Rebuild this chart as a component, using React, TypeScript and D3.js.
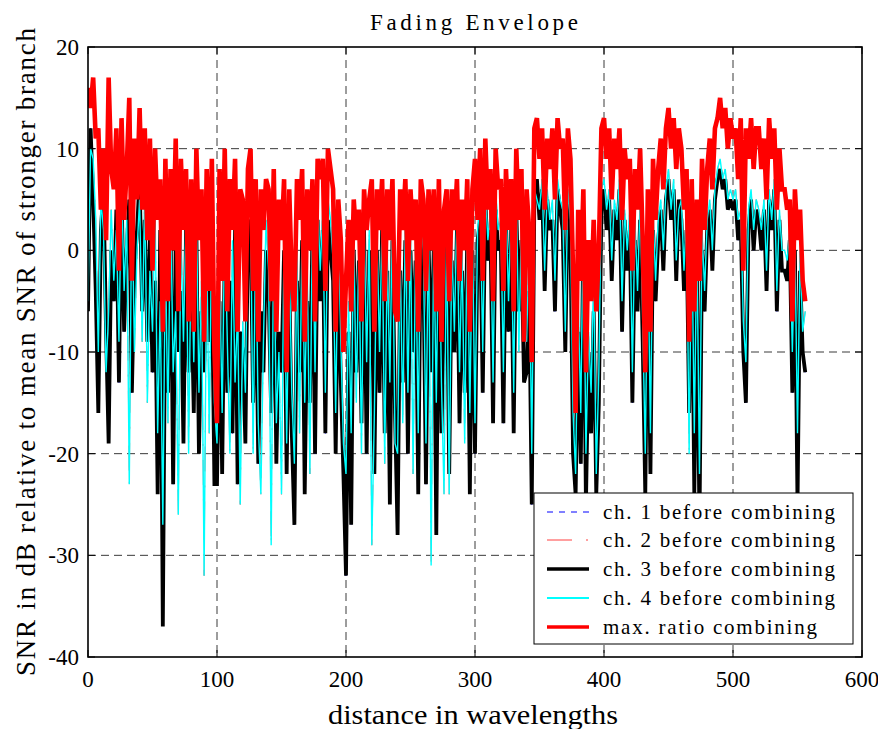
import React from 'react';
import * as d3 from 'd3';

// distance step between samples (wavelengths)
const X_STEP = 2;

// ch. 3 before combining (dB), one value every X_STEP wavelengths from 0 to 556
const ch3Values: number[] = [
  -6, 12, 5, -4, -16, 2, 6, -8, -19, 0,
  -5, 4, -13, 6, -8, 0, 5, -14, -2, 2,
  7, -6, 3, -9, 1, -12, -3, -24, 2, -37,
  -2, -14, 3, -23, 1, -10, -4, -19, 2, -12,
  -3, -16, 2, -20, -6, -12, 1, -9, -2, -23,
  -23, -5, -22, 0, -14, -3, -18, 2, -23, -8,
  -10, -19, 2, 3, -15, -1, -21, -6, -12, 0,
  -4, -16, 1, -21, -8, -12, 0, -22, -3, -18,
  -27, -3, -12, 1, -24, -5, -15, 2, -20, 3,
  -5, 2, -18, 3, 0, -3, -20, -1, -13, -22,
  -32, -8, -27, 0, -12, -1, -17, 2, -20, 0,
  -3, -22, 0, -14, 2, -18, -2, -25, 1, -16,
  -28, -2, -13, 1, -20, 0, -10, -1, -24, 2,
  -2, -23, 1, -12, 0, -28, 2, -18, -5, 1,
  -22, -1, -10, 2, -17, -2, -14, 1, -24, 0,
  -20, 1, 3, -14, 5, -1, 2, -17, 4, 0,
  1, -17, 3, -8, 2, -18, 4, -6, 1, -13,
  -12, -4, -25, 5, 7, 3, 6, -4, 5, 2,
  3, -6, 6, 4, 2, -10, 5, 1, -20, -24,
  -8, -21, 2, -25, -10, -18, -6, -24, -15, 4,
  6, 2, 5, -3, 4, 1, 6, -8, 3, -2,
  2, -15, 1, -6, 3, -9, -24, -1, -22, 2,
  -5, 1, 4, -2, 5, 7, 3, 6, -3, 5,
  3, -4, 2, -16, 1, -24, -2, -27, 0, -6,
  2, 4, -2, 5, 7, 8, 6, 7, 4, 5,
  4, 5, 1, 3, -10, -15, 2, 5, 0, 4,
  3, 0, 4, -4, 5, 2, 6, -6, 3, -2,
  -2, -3, 1, -14, 0, -25, -2, -10, -12,
];

// ch. 4 before combining (dB)
const ch4Values: number[] = [
  -5, 10, 9, 3, -10, 5, 2, -12, -6, 4,
  -3, 2, -9, 7, -4, 3, -23, 6, -10, 0,
  5, -9, 6, -15, -2, -8, 4, -18, -5, -27,
  0, -17, 5, -12, -6, -26, 2, -9, 4, -20,
  1, -11, 4, -14, -3, -32, 0, -18, 3, -15,
  -19, -2, -16, 3, -9, -20, 1, -13, -6, -25,
  -7, -14, 4, 5, -20, 2, -17, -24, -9, 3,
  -2, -29, 3, -17, -10, -24, 2, -19, -1, -14,
  -21, 0, -18, 3, -15, -2, -22, 4, -12, 5,
  -2, 4, -14, 5, 3, -1, -16, 2, -9, -19,
  -22, -5, -18, 2, -15, 1, -20, 3, -11, 2,
  -29, -16, 2, -10, 3, -21, 0, -13, 4, -19,
  -20, 0, -17, 3, -14, 2, -22, 1, -18, 4,
  0, -19, 3, -31, 2, -15, 4, -13, -24, 3,
  -24, 1, -8, 4, -12, 0, -19, 3, -16, 2,
  -17, 2, 5, -10, 6, 1, 4, -13, 6, 2,
  3, -12, 5, -5, 4, -14, 6, -10, 3, -8,
  -9, 1, -20, 6, 5, 4, 7, -2, 6, 3,
  5, -3, 7, 5, 4, -8, 6, 3, -16, -22,
  -5, -16, 4, -20, -8, -14, -2, -22, -12, 6,
  7, 4, 6, -1, 5, 3, 7, -5, 4, 0,
  4, -12, 3, -4, 5, -7, -20, 1, -18, 4,
  -3, 3, 5, 0, 6, 8, 4, 7, -1, 4,
  5, -2, 4, -20, 3, -18, 1, -22, 2, -4,
  3, 5, 0, 6, 8, 9, 7, 8, 5, 6,
  5, 6, 3, 4, -7, -11, 4, 6, 2, 5,
  4, 2, 5, -2, 6, 3, 7, -4, 4, 0,
  0, -1, 2, -10, 1, -18, 0, -8, -6,
];

// max. ratio combining (dB)
const maxRatioValues: number[] = [
  16, 14, 17, 11, 12, 4, 10, 1, 17, 8,
  6, 12, -2, 13, 3, 8, 15, -3, 11, 5,
  14, 4, 12, 1, 11, -2, 10, 3, 7, -8,
  9, -5, 8, 0, 11, -6, 9, 2, 8, -7,
  7, -8, 10, 1, 6, -9, 8, -4, 9, -10,
  -17, 8, -3, 10, -6, 7, 2, 9, -8, 6,
  5, -7, 8, 10, -4, 7, -9, 6, 2, 7,
  6, -5, 8, -8, 5, 1, 7, -12, 6, -3,
  -6, 7, 3, 8, -9, 6, 0, 7, -7, 9,
  7, 9, -4, 10, 8, 6, -8, 5, 1, -10,
  -3, 3, -6, 5, 1, 4, -7, 6, 2, 5,
  7, -8, 6, 2, 7, -5, 6, 1, 7, -6,
  -7, 6, 2, 7, -3, 6, 1, 5, -8, 7,
  5, -4, 6, 0, 6, -6, 7, -9, 4, 6,
  -5, 6, 2, 7, -3, 5, 0, 7, -8, 6,
  9, 3, 10, -3, 11, 4, 8, -5, 10, 6,
  7, -4, 8, 2, 7, -6, 10, 3, 8, -9,
  6, 2, -11, 12, 13, 9, 12, 4, 11, 8,
  12, 5, 13, 10, 11, 2, 12, 9, -2, -16,
  4, -3, 6, -12, 1, -5, 3, -6, 0, 12,
  13, 9, 12, 5, 11, 8, 12, 3, 10, 7,
  9, -2, 8, 4, 10, 1, -12, 6, -8, 9,
  3, 8, 11, 6, 12, 14, 10, 13, 8, 12,
  10, 4, 8, -9, 7, -6, 5, -3, 9, 2,
  8, 11, 6, 12, 13, 15, 12, 14, 10, 13,
  11, 12, 7, 13, -2, 12, 9, 13, 8, 12,
  12, 8, 11, 5, 13, 9, 12, 4, 10, 6,
  6, 4, 5, -7, 6, 1, 4, -3, -5,
];

// ch. 1 and ch. 2 traces lie fully underneath ch. 3 and ch. 4 in the reference
const ch1Values: number[] = ch3Values;
const ch2Values: number[] = ch4Values;

const xTicks = [0, 100, 200, 300, 400, 500, 600];
const yTicks = [20, 10, 0, -10, -20, -30, -40];
const legendLabels = [
  'ch. 1 before combining',
  'ch. 2 before combining',
  'ch. 3 before combining',
  'ch. 4 before combining',
  'max. ratio combining',
];

const FONT = 'Liberation Serif, DejaVu Serif, serif';

export default function App() {
  const W = 878, H = 729;
  const L = 88, R = 862, T = 47, B = 657;
  const x = d3.scaleLinear().domain([0, 600]).range([L, R]);
  const y = d3.scaleLinear().domain([-40, 20]).range([B, T]);
  const line = (vals: number[]) =>
    d3.line<number>().x((_, i) => x(i * X_STEP)).y((v) => y(v))(vals) || '';

  const series = [
    { vals: ch1Values, color: '#0000ff', width: 1, dash: '6,6' },
    { vals: ch2Values, color: '#ff4040', width: 0.8, dash: '25,14,2,14' },
    { vals: ch3Values, color: '#000000', width: 3.8, dash: undefined },
    { vals: ch4Values, color: '#00ffff', width: 1.4, dash: undefined },
    { vals: maxRatioValues, color: '#ff0000', width: 4.6, dash: undefined },
  ];

  const legendRows = [512, 540, 569, 598, 627];
  const legendLengths = [232, 232, 232, 232, 214];

  return (
    <svg
      width={W}
      height={H}
      style={{ position: 'absolute', left: 0, top: 0, display: 'block', background: '#fff' }}
    >
      <defs>
        <clipPath id="plotClip">
          <rect x={L} y={T} width={R - L} height={B - T} />
        </clipPath>
      </defs>
      <rect x={0} y={0} width={W} height={H} fill="#fff" />
      {/* grid */}
      {xTicks.slice(1, -1).map((t) => (
        <line key={'gx' + t} x1={x(t)} x2={x(t)} y1={T} y2={B} stroke="#3a3a3a" strokeWidth={1} strokeDasharray="8,5" />
      ))}
      {yTicks.slice(1, -1).map((t) => (
        <line key={'gy' + t} x1={L} x2={R} y1={y(t)} y2={y(t)} stroke="#3a3a3a" strokeWidth={1} strokeDasharray="8,5" />
      ))}
      {/* data */}
      <g clipPath="url(#plotClip)">
        {series.map((s, i) => (
          <path
            key={'s' + i}
            d={line(s.vals)}
            fill="none"
            stroke={s.color}
            strokeWidth={s.width}
            strokeDasharray={s.dash}
            strokeLinejoin="miter"
            strokeMiterlimit={2}
          />
        ))}
      </g>
      {/* frame and ticks */}
      <rect x={L} y={T} width={R - L} height={B - T} fill="none" stroke="#000" strokeWidth={1.6} />
      <g fontFamily={FONT} fill="#000">
        {xTicks.map((t) => (
          <g key={'xt' + t}>
            <line x1={x(t)} x2={x(t)} y1={B} y2={B - 7} stroke="#000" strokeWidth={1} />
            <line x1={x(t)} x2={x(t)} y1={T} y2={T + 7} stroke="#000" strokeWidth={1} />
            <text x={x(t)} y={687} fontSize={23} textAnchor="middle" fontFamily={FONT}>
              {t}
            </text>
          </g>
        ))}
        {yTicks.map((t) => (
          <g key={'yt' + t}>
            <line x1={L} x2={L + 7} y1={y(t)} y2={y(t)} stroke="#000" strokeWidth={1} />
            <line x1={R} x2={R - 7} y1={y(t)} y2={y(t)} stroke="#000" strokeWidth={1} />
            <text x={79} y={y(t) + 8} fontSize={23} textAnchor="end" fontFamily={FONT}>
              {t}
            </text>
          </g>
        ))}
        {/* title and axis labels */}
        <text x={474} y={30} fontSize={23} textAnchor="middle" textLength={208} lengthAdjust="spacing" fontFamily={FONT}>
          Fading Envelope
        </text>
        <text x={473} y={724} fontSize={27} textAnchor="middle" textLength={290} lengthAdjust="spacingAndGlyphs" fontFamily={FONT}>
          distance in wavelengths
        </text>
        <text
          transform="translate(35,352) rotate(-90)"
          fontSize={27}
          textAnchor="middle"
          textLength={648}
          lengthAdjust="spacing"
          fontFamily={FONT}
        >
          SNR in dB relative to mean SNR of stronger branch
        </text>
        {/* legend */}
        <rect x={534} y={493} width={319} height={151} fill="#fff" stroke="#000" strokeWidth={1} />
        {legendLabels.map((lab, i) => {
          const s = series[i];
          const ry = legendRows[i];
          return (
            <g key={'lg' + i}>
              <line
                x1={547}
                x2={589}
                y1={ry}
                y2={ry}
                stroke={s.color}
                strokeWidth={i === 2 || i === 4 ? 3.6 : i === 3 ? 1.8 : 1}
                strokeDasharray={s.dash}
              />
              <text x={603} y={ry + 7} fontSize={21} textLength={legendLengths[i]} lengthAdjust="spacing" fontFamily={FONT}>
                {lab}
              </text>
            </g>
          );
        })}
      </g>
    </svg>
  );
}
